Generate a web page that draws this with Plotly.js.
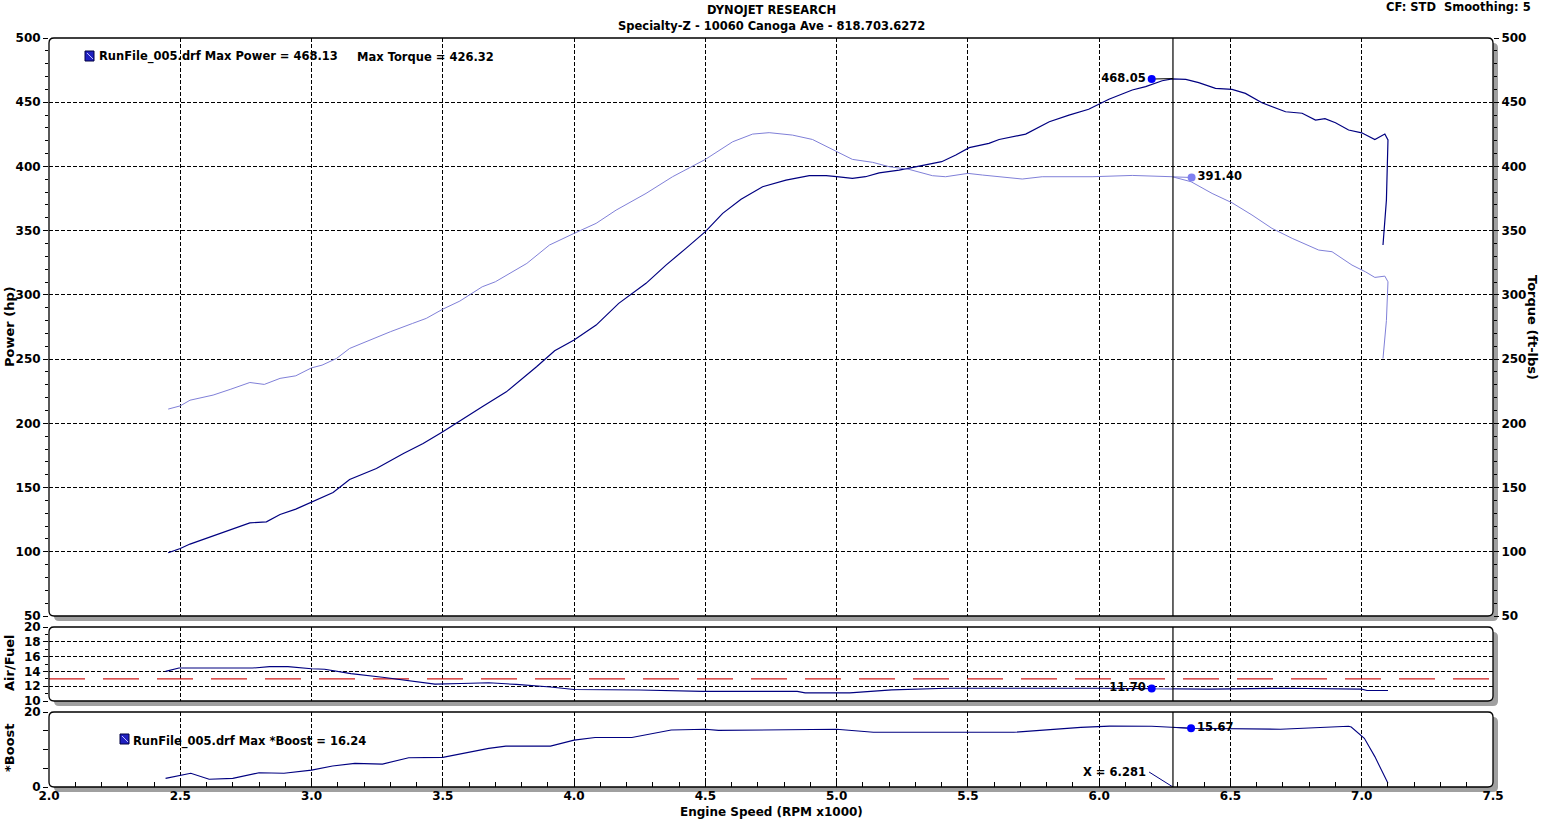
<!DOCTYPE html>
<html>
<head>
<meta charset="utf-8">
<script src="https://cdn.plot.ly/plotly-3.0.1.min.js"></script>
<style>html,body{margin:0;padding:0;background:#fff;}#chart{width:1542px;height:820px;}</style>
</head>
<body>
<div id="chart"></div>
<script>
// ---------------- DATA ----------------
const powerRpm = [2.454,2.5,2.537,2.6,2.69,2.765,2.828,2.88,2.94,3.0,3.082,3.145,3.247,3.35,3.425,3.5,3.578,3.65,3.742,3.805,3.857,3.926,4.0,4.084,4.17,4.274,4.35,4.426,4.5,4.566,4.636,4.718,4.807,4.896,4.96,5.0,5.06,5.11,5.162,5.238,5.34,5.4,5.454,5.505,5.58,5.619,5.72,5.81,5.885,5.96,6.037,6.126,6.177,6.24,6.278,6.33,6.379,6.443,6.506,6.557,6.62,6.71,6.773,6.824,6.86,6.9,6.95,7.0,7.05,7.088,7.1,7.098,7.094,7.081];
const powerHp = [99.2,102.6,106,110.4,116.8,122.5,123.3,129,133.2,138.9,146.2,156.3,164.8,176.5,184.3,193.4,203.8,212.9,224.5,235,244,256.5,264.8,276.5,293.4,309,323.2,336.2,349.2,363.5,374.4,384.2,389.4,392.8,392.8,392,390.7,392,395,397.2,401,403.7,408.9,414.6,418,421,425.2,434.8,440,444.5,452.3,459.5,462.1,466.7,468.1,467.8,465.2,460.8,460,456.9,449.6,442.6,441.4,436.1,437.2,434,428.4,426.2,421,425.2,420.6,405,373.8,338.8];

const torqueRpm = [2.454,2.5,2.537,2.625,2.69,2.765,2.82,2.88,2.94,3.0,3.04,3.095,3.145,3.22,3.30,3.385,3.437,3.5,3.565,3.65,3.70,3.82,3.906,4.0,4.084,4.16,4.274,4.375,4.5,4.604,4.68,4.743,4.832,4.908,5.0,5.06,5.137,5.2,5.276,5.365,5.415,5.5,5.556,5.644,5.707,5.783,5.973,6.126,6.278,6.35,6.43,6.506,6.582,6.658,6.735,6.836,6.887,6.963,7.014,7.05,7.088,7.1,7.094,7.081];
const torqueFtLb = [211.1,213.6,218,222,226.4,231.8,230.3,235,237,243.2,245.3,250.5,258.3,264.8,271.3,277.8,281.7,288.9,295.2,306.3,310.2,324.5,338.8,347.9,355.7,366,379,392,405.5,419.2,425.2,426.3,424.4,421,411.5,405.5,403.2,399.8,397.7,392.8,392,394.6,393.3,391.5,390.2,392,392,393,392,388.1,379,371.7,362.2,351.8,344,334.9,333.6,323.2,318,313.6,314.6,310.2,280,250.5];

const afrRpm = [2.444,2.495,2.775,2.84,2.91,3.0,3.05,3.15,3.27,3.37,3.47,3.57,3.675,3.78,3.91,4.0,4.25,4.49,4.85,4.88,5.05,5.21,5.42,6.0,6.2,6.42,6.71,7.0,7.02,7.1];
const afrVals = [14.0,14.45,14.45,14.65,14.65,14.35,14.3,13.7,13.2,12.73,12.28,12.37,12.46,12.24,11.9,11.56,11.48,11.3,11.3,11.1,11.1,11.5,11.73,11.73,11.7,11.6,11.73,11.6,11.42,11.42];
const afrTarget = 13.0;

const boostRpm = [2.444,2.54,2.61,2.70,2.80,2.895,3.0,3.08,3.165,3.27,3.37,3.5,3.675,3.74,3.91,4.0,4.08,4.22,4.37,4.5,4.55,4.93,5.0,5.14,5.675,5.93,6.04,6.2,6.28,6.35,6.69,6.91,6.95,6.96,7.01,7.05,7.1];
const boostPsi = [2.3,3.65,2.05,2.3,3.8,3.65,4.5,5.6,6.3,6.1,7.8,7.9,10.3,10.9,10.9,12.5,13.2,13.2,15.2,15.4,15.1,15.2,15.4,14.6,14.6,15.9,16.24,16.2,15.9,15.67,15.4,16.2,16.2,16.0,13.0,8.1,1.0];

const cursorRpm = 6.281;
const powerMark = {rpm: 6.2, val: 468.05, curve: 468.4};
const torqueMark = {rpm: 6.352, val: 391.40, curve: 391.9};
const afrMark = {rpm: 6.2, val: 11.70, curve: 11.70};
const boostMark = {rpm: 6.35, val: 15.67, curve: 15.9};

const xTickVals = [2.0,2.5,3.0,3.5,4.0,4.5,5.0,5.5,6.0,6.5,7.0,7.5];
const xTickText = ['2.0','2.5','3.0','3.5','4.0','4.5','5.0','5.5','6.0','6.5','7.0','7.5'];

const headerTitle = 'DYNOJET RESEARCH';
const headerSub = 'Specialty-Z - 10060 Canoga Ave - 818.703.6272';
const headerRight = 'CF: STD  Smoothing: 5';
const legendMain = 'RunFile_005.drf Max Power = 468.13';
const legendTorque = 'Max Torque = 426.32';
const legendBoost = 'RunFile_005.drf Max *Boost = 16.24';

// ---------------- STYLE / LAYOUT ----------------
const W = 1542, H = 820, ML = 49, MR = 49, MT = 38, MB = 33;
const PW = W - ML - MR, PH = H - MT - MB;
const X = p => (p - ML) / PW;
const Y = p => (H - MB - p) / PH;
const FONT = 'DejaVu Sans, Verdana, sans-serif';
const navy = '#000080';
const lightT = '#8080d8';

function rr(x0, y0, x1, y1, r) {
  return `M${X(x0+r)},${Y(y0)} L${X(x1-r)},${Y(y0)} Q${X(x1)},${Y(y0)} ${X(x1)},${Y(y0+r)} ` +
         `L${X(x1)},${Y(y1-r)} Q${X(x1)},${Y(y1)} ${X(x1-r)},${Y(y1)} L${X(x0+r)},${Y(y1)} ` +
         `Q${X(x0)},${Y(y1)} ${X(x0)},${Y(y1-r)} L${X(x0)},${Y(y0+r)} Q${X(x0)},${Y(y0)} ${X(x0+r)},${Y(y0)} Z`;
}
const panels = [[49,38,1493,616],[49,627,1493,701],[49,712,1493,787]];
const shapes = [];
panels.forEach(p => {
  shapes.push({type:'path', xref:'paper', yref:'paper', layer:'below', path: rr(p[0]+5,p[1]+5,p[2]+5,p[3]+5,5), fillcolor:'#a0a0a0', line:{width:0}});
  shapes.push({type:'path', xref:'paper', yref:'paper', layer:'below', path: rr(p[0],p[1],p[2],p[3],5), fillcolor:'#ffffff', line:{width:0}});
});
panels.forEach(p => {
  shapes.push({type:'path', xref:'paper', yref:'paper', layer:'above', path: rr(p[0],p[1],p[2],p[3],5), fillcolor:'rgba(0,0,0,0)', line:{color:'#000', width:1.3}});
});
// cursor line in each panel
panels.forEach(p => {
  shapes.push({type:'line', xref:'x', yref:'paper', x0:cursorRpm, x1:cursorRpm, y0:Y(p[3]), y1:Y(p[1]), line:{color:'#000', width:1.2}});
});
// legend icons
function icon(px, py) {
  shapes.push({type:'rect', xref:'paper', yref:'paper', x0:X(px), x1:X(px+9), y0:Y(py+10), y1:Y(py), fillcolor:'#2020c0', line:{color:'#000040', width:1}});
  shapes.push({type:'line', xref:'paper', yref:'paper', x0:X(px+2), x1:X(px+8), y0:Y(py+2), y1:Y(py+8), line:{color:'#c0c0ff', width:1}});
}
icon(85, 51);
icon(120, 734);

const gridDash = '4px,2px';
const tf = {family: FONT, size: 11.5, color: '#000', weight: 'bold'};
const tickF = {family: FONT, size: 12, color: '#000', weight: 'bold'};
const titleF = {family: FONT, size: 13, color: '#000', weight: 'bold'};

const traces = [
  {x: powerRpm, y: powerHp, yaxis:'y', mode:'lines', line:{color:navy, width:1.2}},
  {x: torqueRpm, y: torqueFtLb, yaxis:'y4', mode:'lines', line:{color:lightT, width:1}},
  {x: [2.0, 7.5], y: [afrTarget, afrTarget], yaxis:'y2', mode:'lines', line:{color:'#d01818', width:1.2, dash:'36px,18px'}},
  {x: afrRpm, y: afrVals, yaxis:'y2', mode:'lines', line:{color:navy, width:1.1}},
  {x: boostRpm, y: boostPsi, yaxis:'y3', mode:'lines', line:{color:navy, width:1.1}},
  // marker connectors
  {x:[powerMark.rpm, cursorRpm], y:[powerMark.val, powerMark.curve], yaxis:'y', mode:'lines', line:{color:'#000', width:1}},
  {x:[cursorRpm, torqueMark.rpm], y:[torqueMark.curve, torqueMark.val], yaxis:'y4', mode:'lines', line:{color:lightT, width:1}},
  {x:[afrMark.rpm, cursorRpm], y:[afrMark.val, afrMark.curve], yaxis:'y2', mode:'lines', line:{color:'#9090e0', width:1}},
  {x:[cursorRpm, boostMark.rpm], y:[boostMark.curve, boostMark.val], yaxis:'y3', mode:'lines', line:{color:navy, width:1}},
  // marker dots + labels
  {x:[powerMark.rpm], y:[powerMark.val], yaxis:'y', mode:'markers+text', marker:{color:'#0000ff', size:8}, text:[powerMark.val.toFixed(2)], textposition:'middle left', textfont:tf},
  {x:[torqueMark.rpm], y:[torqueMark.val], yaxis:'y4', mode:'markers+text', marker:{color:'#8080f0', size:8}, text:[torqueMark.val.toFixed(2)], textposition:'middle right', textfont:tf},
  {x:[afrMark.rpm], y:[afrMark.val], yaxis:'y2', mode:'markers+text', marker:{color:'#0000ff', size:8}, text:[afrMark.val.toFixed(2)], textposition:'middle left', textfont:tf},
  {x:[boostMark.rpm], y:[boostMark.val], yaxis:'y3', mode:'markers+text', marker:{color:'#0000ff', size:8}, text:[boostMark.val.toFixed(2)], textposition:'middle right', textfont:tf},
  // cursor readout leader
  {x:[6.19, cursorRpm], y:[4.0, 0], yaxis:'y3', mode:'lines', line:{color:navy, width:1}}
];

const minorY = {ticks:'outside', ticklen:3, tickcolor:'#000', showgrid:false};
const commonY = {showline:false, zeroline:false, ticks:'outside', ticklen:5, tickcolor:'#000', tickfont:tickF, gridcolor:'#000', griddash:gridDash, gridwidth:1, fixedrange:true};

const layout = {
  width: W, height: H, autosize:false,
  margin:{l:ML, r:MR, t:MT, b:MB, pad:0},
  paper_bgcolor:'#fff', plot_bgcolor:'rgba(0,0,0,0)',
  showlegend:false, hovermode:false,
  font:{family:FONT, size:11, color:'#000'},
  xaxis:{range:[2.0,7.5], anchor:'y3', tickmode:'array', tickvals:xTickVals, ticktext:xTickText, ticks:'inside', ticklen:6, tickcolor:'#000', tickfont:tickF,
         minor:{dtick:0.1, tick0:2.0, ticks:'inside', ticklen:5, tickcolor:'#000', showgrid:false},
         showgrid:true, gridcolor:'#000', griddash:gridDash, gridwidth:1, zeroline:false, showline:false, fixedrange:true},
  yaxis:Object.assign({}, commonY, {domain:[Y(616),1], range:[50,500], tick0:50, dtick:50, showgrid:true, anchor:'x', minor:Object.assign({dtick:10}, minorY)}),
  yaxis4:Object.assign({}, commonY, {overlaying:'y', side:'right', range:[50,500], tick0:50, dtick:50, showgrid:false, anchor:'x', minor:Object.assign({dtick:10}, minorY)}),
  yaxis2:Object.assign({}, commonY, {domain:[Y(701),Y(627)], range:[10,20], tick0:10, dtick:2, showgrid:true, anchor:'x', minor:Object.assign({dtick:1}, minorY)}),
  yaxis3:Object.assign({}, commonY, {domain:[0,Y(712)], range:[0,20], tickmode:'array', tickvals:[0,5,10,15,20], ticktext:['0','','','','20'], showgrid:false, anchor:'x'}),
  shapes: shapes,
  annotations:[
    {xref:'paper', yref:'paper', x:X(771), y:Y(10), text:headerTitle, showarrow:false, font:tf, xanchor:'center', yanchor:'middle'},
    {xref:'paper', yref:'paper', x:X(771), y:Y(26), text:headerSub, showarrow:false, font:tf, xanchor:'center', yanchor:'middle'},
    {xref:'paper', yref:'paper', x:X(1533), y:Y(7), text:headerRight, showarrow:false, font:tf, xanchor:'right', yanchor:'middle'},
    {xref:'paper', yref:'paper', x:X(97), y:Y(57), text:legendMain, showarrow:false, font:tf, xanchor:'left', yanchor:'middle'},
    {xref:'paper', yref:'paper', x:X(355), y:Y(57), text:legendTorque, showarrow:false, font:tf, xanchor:'left', yanchor:'middle'},
    {xref:'paper', yref:'paper', x:X(131), y:Y(741), text:legendBoost, showarrow:false, font:tf, xanchor:'left', yanchor:'middle'},
    {xref:'x', yref:'y3', x:6.185, y:4.0, text:'X = 6.281', showarrow:false, font:tf, xanchor:'right', yanchor:'middle'},
    {xref:'paper', yref:'paper', x:X(9), y:Y(327), text:'Power (hp)', showarrow:false, font:titleF, textangle:-90, xanchor:'center', yanchor:'middle'},
    {xref:'paper', yref:'paper', x:X(1533), y:Y(327), text:'Torque (ft-lbs)', showarrow:false, font:titleF, textangle:90, xanchor:'center', yanchor:'middle'},
    {xref:'paper', yref:'paper', x:X(9), y:Y(663), text:'Air/Fuel', showarrow:false, font:titleF, textangle:-90, xanchor:'center', yanchor:'middle'},
    {xref:'paper', yref:'paper', x:X(9), y:Y(748), text:'*Boost', showarrow:false, font:titleF, textangle:-90, xanchor:'center', yanchor:'middle'},
    {xref:'paper', yref:'paper', x:X(771), y:Y(812), text:'Engine Speed (RPM x1000)', showarrow:false, font:{family:FONT, size:12, color:'#000', weight:'bold'}, xanchor:'center', yanchor:'middle'}
  ]
};

Plotly.newPlot('chart', traces, layout, {staticPlot:true, displayModeBar:false});
</script>
</body>
</html>
